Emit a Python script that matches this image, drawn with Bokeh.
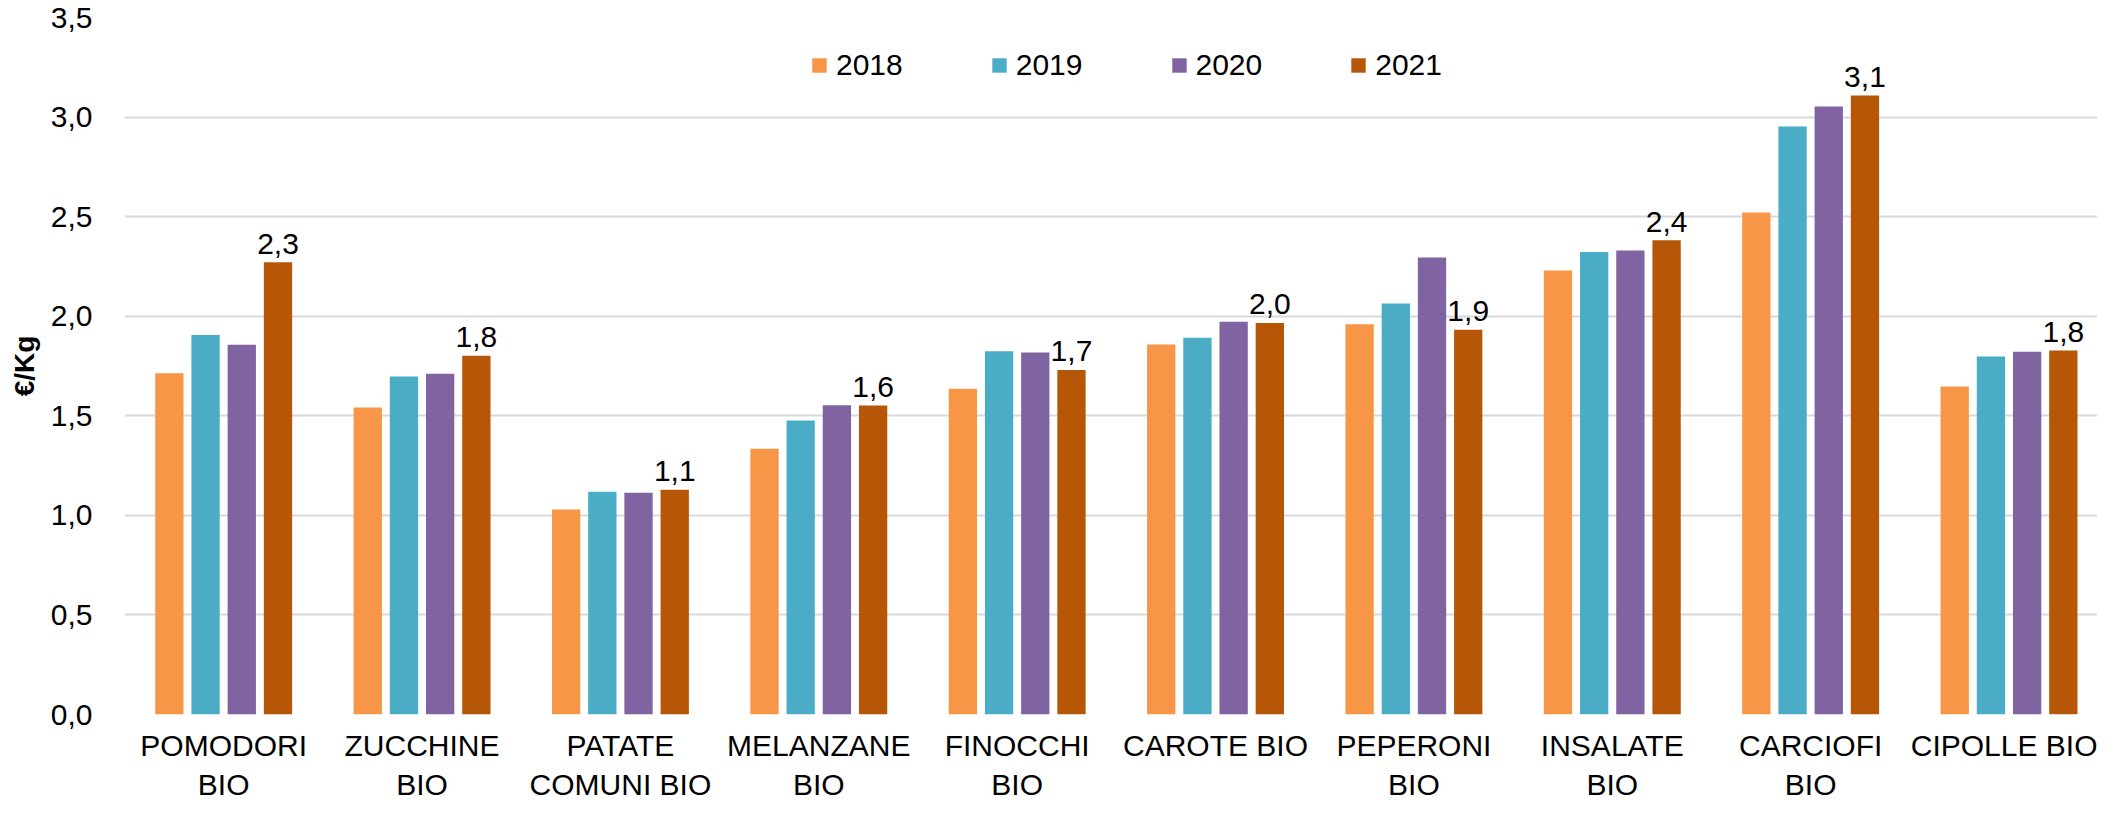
from bokeh.plotting import figure
from bokeh.models import (Range1d, FixedTicker, CustomJSTickFormatter, ColumnDataSource,
                          Legend, LegendItem, LinearAxis)
from bokeh.transform import dodge
from bokeh.core.properties import value
from bokeh.embed import file_html
from bokeh.resources import INLINE

categories = ["POMODORI BIO", "ZUCCHINE BIO", "PATATE COMUNI BIO", "MELANZANE BIO",
              "FINOCCHI BIO", "CAROTE BIO", "PEPERONI BIO", "INSALATE BIO",
              "CARCIOFI BIO", "CIPOLLE BIO"]
label_line1 = ["POMODORI", "ZUCCHINE", "PATATE", "MELANZANE", "FINOCCHI",
               "CAROTE BIO", "PEPERONI", "INSALATE", "CARCIOFI", "CIPOLLE BIO"]
label_line2 = ["BIO", "BIO", "COMUNI BIO", "BIO", "BIO", "", "BIO", "BIO", "BIO", ""]
years = ["2018", "2019", "2020", "2021"]
v2018 = [1.714, 1.542, 1.029, 1.334, 1.636, 1.858, 1.960, 2.229, 2.521, 1.647]
v2019 = [1.906, 1.697, 1.118, 1.476, 1.824, 1.892, 2.064, 2.322, 2.953, 1.798]
v2020 = [1.857, 1.711, 1.113, 1.553, 1.818, 1.972, 2.295, 2.330, 3.053, 1.822]
v2021 = [2.271, 1.802, 1.128, 1.552, 1.730, 1.966, 1.932, 2.382, 3.108, 1.828]
y_ticks = [0.0, 0.5, 1.0, 1.5, 2.0, 2.5, 3.0, 3.5]
colors = ["#F79646", "#4BACC6", "#8064A2", "#B65708"]

FONT = "Liberation Sans"

xc = [i + 0.5 for i in range(len(categories))]
labels21 = [f"{v:.1f}".replace(".", ",") for v in v2021]
src = ColumnDataSource(dict(x=xc, cat=categories, v2018=v2018, v2019=v2019,
                            v2020=v2020, v2021=v2021, lbl=labels21))

p = figure(width=2097, height=803, output_backend="svg", toolbar_location=None,
           x_range=Range1d(0, 9.946), y_range=Range1d(0, 3.5),
           min_border_left=124, min_border_right=0, min_border_top=17, min_border_bottom=87)
p.outline_line_color = None
p.background_fill_color = "white"
p.border_fill_color = "white"

step = 0.1825
bw = 0.1427
cols = ["v2018", "v2019", "v2020", "v2021"]
renderers = []
for k, (c, col) in enumerate(zip(cols, colors)):
    off = (k - 1.5) * step
    r = p.vbar(x=dodge("x", off), top=c, width=bw, bottom=0, source=src,
               fill_color=col, line_color=None)
    renderers.append(r)

p.text(x=dodge("x", 1.5 * step), y="v2021", text="lbl", source=src,
       text_font=value(FONT), text_font_size="30px", text_color="#000000",
       text_align="center", text_baseline="alphabetic", y_offset=-18.5)


def style_xaxis(ax, labels, standoff):
    ax.ticker = FixedTicker(ticks=xc)
    ax.major_label_overrides = {x: lab for x, lab in zip(xc, labels)}
    ax.major_label_text_font = FONT
    ax.major_label_text_font_size = "30px"
    ax.major_label_text_color = "#000000"
    ax.major_label_standoff = standoff
    ax.major_tick_out = 0
    ax.major_tick_in = 0
    ax.axis_label_standoff = 0
    ax.axis_line_color = None
    ax.major_tick_line_color = None
    ax.minor_tick_line_color = None


# category labels: first line on the main axis, second line on a second axis below
style_xaxis(p.xaxis[0], label_line1, 14)
ax2 = LinearAxis()
style_xaxis(ax2, label_line2, 3)
p.add_layout(ax2, "below")

p.yaxis.ticker = FixedTicker(ticks=y_ticks)
p.yaxis.formatter = CustomJSTickFormatter(code="return tick.toFixed(1).replace('.', ',');")
p.yaxis.major_label_text_font = FONT
p.yaxis.major_label_text_font_size = "30px"
p.yaxis.major_label_text_color = "#000000"
p.yaxis.major_label_standoff = 32
p.yaxis.major_tick_out = 0
p.yaxis.major_tick_in = 0
p.yaxis.axis_line_color = None
p.yaxis.major_tick_line_color = None
p.yaxis.minor_tick_line_color = None
p.yaxis.axis_label = "€/Kg"
p.yaxis.axis_label_text_font = FONT
p.yaxis.axis_label_text_font_size = "28px"
p.yaxis.axis_label_text_font_style = "bold"
p.yaxis.axis_label_text_color = "#000000"
p.yaxis.axis_label_standoff = 8

p.xgrid.grid_line_color = None
p.ygrid.ticker = FixedTicker(ticks=y_ticks)
p.ygrid.grid_line_color = "#D9D9D9"
p.ygrid.grid_line_width = 2

legend = Legend(items=[LegendItem(label=y, renderers=[r]) for y, r in zip(years, renderers)],
                orientation="horizontal", location=(686, 632),
                glyph_width=18, glyph_height=18, label_standoff=8, spacing=87,
                padding=0, margin=0, border_line_color=None, background_fill_alpha=0,
                label_text_font=FONT, label_text_font_size="30px", label_text_color="#000000")
p.add_layout(legend)

open("out.html", "w").write(file_html(p, INLINE))
